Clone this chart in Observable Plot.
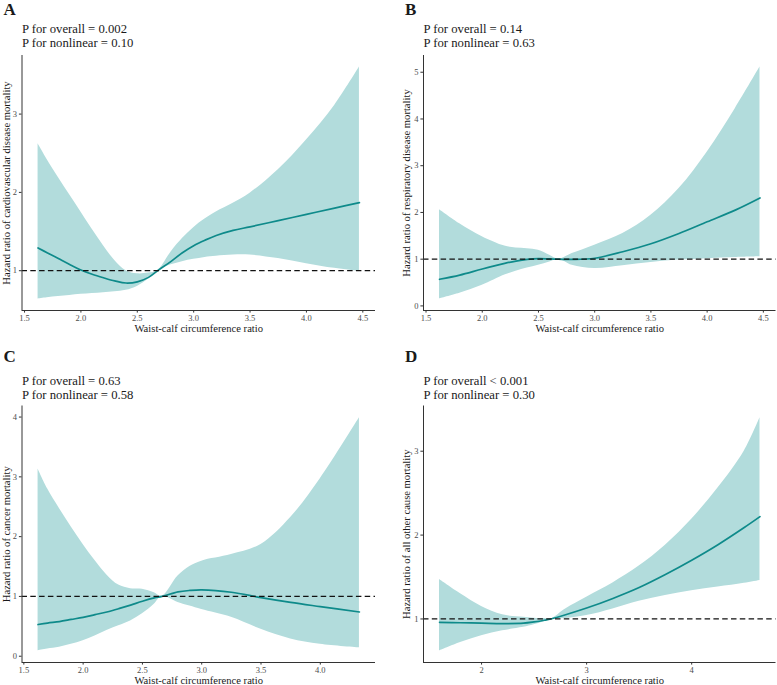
<!DOCTYPE html>
<html>
<head>
<meta charset="utf-8">
<script src="https://cdn.jsdelivr.net/npm/d3@7"></script>
<script src="https://cdn.jsdelivr.net/npm/@observablehq/plot@0.6"></script>
<style>
  body { margin: 0; background: #fff; }
  #wrap { position: relative; width: 777px; height: 685px; overflow: hidden; }
  .panel { position: absolute; }
  .panel svg { overflow: visible; }
</style>
</head>
<body>
<div id="wrap"></div>
<script>
// ---------------- DATA ----------------
const xLabel = "Waist-calf circumference ratio";

// Panel A: cardiovascular disease mortality
const xA   = [1.62, 1.7, 1.8, 1.9, 2.0, 2.1, 2.2, 2.3, 2.4, 2.5, 2.6, 2.68, 2.8, 2.9, 3.0, 3.1, 3.2, 3.35, 3.5, 3.75, 4.0, 4.25, 4.47];
const estA = [1.29, 1.23, 1.155, 1.08, 1.01, 0.955, 0.91, 0.87, 0.843, 0.858, 0.915, 1.0, 1.12, 1.23, 1.32, 1.39, 1.45, 1.515, 1.56, 1.64, 1.72, 1.80, 1.87];
const loA  = [0.64, 0.655, 0.67, 0.685, 0.698, 0.71, 0.72, 0.73, 0.75, 0.80, 0.895, 1.0, 1.075, 1.115, 1.145, 1.17, 1.185, 1.20, 1.20, 1.155, 1.09, 1.03, 0.99];
const hiA  = [2.62, 2.42, 2.19, 1.97, 1.75, 1.53, 1.32, 1.13, 1.0, 0.96, 0.97, 1.0, 1.24, 1.41, 1.55, 1.66, 1.75, 1.86, 1.99, 2.29, 2.67, 3.11, 3.60];
const xTicksA = [1.5, 2.0, 2.5, 3.0, 3.5, 4.0, 4.5];
const yTicksA = [1, 2, 3];

// Panel B: respiratory disease mortality
const xB   = [1.62, 1.8, 2.0, 2.2, 2.3, 2.4, 2.5, 2.6, 2.68, 2.8, 3.0, 3.25, 3.5, 3.75, 4.0, 4.25, 4.47];
const estB = [0.57, 0.66, 0.79, 0.91, 0.96, 0.995, 1.01, 1.005, 1.0, 0.995, 1.02, 1.16, 1.33, 1.55, 1.80, 2.05, 2.31];
const loB  = [0.15, 0.27, 0.44, 0.66, 0.74, 0.81, 0.87, 0.94, 1.0, 0.87, 0.80, 0.86, 0.93, 0.98, 1.01, 1.035, 1.05];
const hiB  = [2.06, 1.76, 1.48, 1.28, 1.24, 1.225, 1.19, 1.085, 1.0, 1.12, 1.30, 1.55, 1.94, 2.51, 3.29, 4.22, 5.11];
const xTicksB = [1.5, 2.0, 2.5, 3.0, 3.5, 4.0, 4.5];
const yTicksB = [0, 1, 2, 3, 4, 5];

// Panel C: cancer mortality
const xC   = [1.62, 1.7, 1.8, 1.9, 2.0, 2.1, 2.2, 2.3, 2.4, 2.5, 2.6, 2.665, 2.8, 2.9, 3.0, 3.25, 3.5, 3.75, 4.0, 4.33];
const estC = [0.53, 0.555, 0.58, 0.615, 0.65, 0.695, 0.74, 0.795, 0.855, 0.92, 0.975, 1.0, 1.075, 1.10, 1.11, 1.07, 0.98, 0.90, 0.83, 0.74];
const loC  = [0.09, 0.12, 0.15, 0.20, 0.26, 0.34, 0.43, 0.51, 0.59, 0.71, 0.87, 1.0, 0.90, 0.84, 0.78, 0.65, 0.45, 0.29, 0.20, 0.14];
const hiC  = [3.13, 2.80, 2.47, 2.16, 1.87, 1.60, 1.36, 1.19, 1.13, 1.12, 1.06, 1.0, 1.34, 1.50, 1.59, 1.70, 1.87, 2.32, 2.97, 3.99];
const xTicksC = [1.5, 2.0, 2.5, 3.0, 3.5, 4.0];
const yTicksC = [0, 1, 2, 3, 4];

// Panel D: all other cause mortality
const xD   = [1.6, 1.8, 2.0, 2.2, 2.4, 2.5, 2.6, 2.66, 2.8, 3.0, 3.25, 3.5, 3.75, 4.0, 4.25, 4.5, 4.65];
const estD = [0.96, 0.955, 0.95, 0.945, 0.95, 0.965, 0.985, 1.0, 1.05, 1.13, 1.245, 1.375, 1.53, 1.70, 1.885, 2.09, 2.22];
const loD  = [0.62, 0.72, 0.80, 0.86, 0.90, 0.93, 0.97, 1.0, 1.005, 1.04, 1.12, 1.21, 1.28, 1.335, 1.38, 1.425, 1.46];
const hiD  = [1.47, 1.30, 1.15, 1.05, 1.02, 1.01, 1.005, 1.0, 1.12, 1.26, 1.43, 1.63, 1.88, 2.19, 2.56, 3.0, 3.40];
const xTicksD = [2, 3, 4];
const yTicksD = [1, 2, 3];

const letters = ["A", "B", "C", "D"];
const pOverall = ["P for overall = 0.002", "P for overall = 0.14", "P for overall = 0.63", "P for overall < 0.001"];
const pNonlinear = ["P for nonlinear = 0.10", "P for nonlinear = 0.63", "P for nonlinear = 0.58", "P for nonlinear = 0.30"];
const yLabels = [
  "Hazard ratio of cardiovascular disease mortality",
  "Hazard ratio of respiratory disease mortality",
  "Hazard ratio of cancer mortality",
  "Hazard ratio of all other cause mortality"
];

// ---------------- DRAWING ----------------
const FONT = "'Liberation Serif', 'Times New Roman', Times, serif";
const RIBBON = "#b2dcdc";
const LINE = "#0e8a8a";
const CURVE = "catmull-rom";

function expand(arr) {
  const a = d3.min(arr), b = d3.max(arr), p = (b - a) * 0.05;
  return [a - p, b + p];
}

function panel(cfg) {
  const rows = cfg.xs.map((x, i) => ({x, est: cfg.est[i], lo: cfg.lo[i], hi: cfg.hi[i]}));
  const xd = expand(cfg.xs);
  const yd = expand(cfg.lo.concat(cfg.hi));
  const g = cfg.geom;
  const txt = {fill: "#1a1a1a", lineAnchor: "middle"};
  const chart = Plot.plot({
    width: g.width,
    height: g.height,
    marginTop: g.mt,
    marginBottom: g.mb,
    marginLeft: g.ml,
    marginRight: g.mr,
    x: {domain: xd},
    y: {domain: yd},
    style: {fontFamily: FONT, background: "transparent", color: "#000"},
    marks: [
      Plot.areaY(rows, {x: "x", y1: "lo", y2: "hi", fill: RIBBON, curve: CURVE}),
      Plot.lineY(rows, {x: "x", y: "est", stroke: LINE, strokeWidth: 1.7, curve: CURVE}),
      Plot.ruleY([1], {stroke: "#111", strokeWidth: 1.2, strokeDasharray: "5.5,3.3"}),
      Plot.ruleX([xd[0]], {stroke: "#333", strokeWidth: 1}),
      Plot.ruleY([yd[0]], {stroke: "#333", strokeWidth: 1}),
      Plot.axisX({ticks: cfg.xTicks, tickFormat: cfg.xFmt, tickSize: 2.6, tickPadding: 1.5,
                  fontSize: 8.5, stroke: "#333", fill: "#4d4d4d", label: null}),
      Plot.axisY({ticks: cfg.yTicks, tickFormat: d3.format("d"), tickSize: 2.6, tickPadding: 2.4,
                  fontSize: 8.5, stroke: "#333", fill: "#4d4d4d", label: null}),
      Plot.text([xLabel], {...txt, frameAnchor: "bottom", textAnchor: "middle", dy: 17.6, fontSize: 10.6}),
      Plot.text([cfg.ylab], {...txt, frameAnchor: "left", textAnchor: "middle", rotate: -90, dx: g.ylabDx, fontSize: 10.6}),
      Plot.text([cfg.letter], {...txt, frameAnchor: "top-left", textAnchor: "start", dx: -18.4, dy: g.letterDy,
                               fontSize: 17, fontWeight: "bold"}),
      Plot.text([cfg.p1], {...txt, frameAnchor: "top-left", textAnchor: "start", dx: 0, dy: g.p1Dy, fontSize: 12.7}),
      Plot.text([cfg.p2], {...txt, frameAnchor: "top-left", textAnchor: "start", dx: 0, dy: g.p2Dy, fontSize: 12.7})
    ]
  });
  const div = document.createElement("div");
  div.className = "panel";
  div.style.left = g.left + "px";
  div.style.top = g.top + "px";
  div.appendChild(chart);
  document.getElementById("wrap").appendChild(div);
}

const fmt1 = d3.format(".1f");
const fmt0 = d3.format("d");

const geomTopLeft  = {left: 0,   top: 0,   width: 388, height: 340, mt: 55,   mb: 30, ml: 21.5, mr: 13,  ylabDx: -15.5, letterDy: -46.3, p1Dy: -26.3, p2Dy: -12.8};
const geomTopRight = {left: 388, top: 0,   width: 389, height: 340, mt: 55,   mb: 30, ml: 35,   mr: 1.5, ylabDx: -16.8, letterDy: -46.3, p1Dy: -26.3, p2Dy: -12.8};
const geomBotLeft  = {left: 0,   top: 340, width: 388, height: 345, mt: 65.5, mb: 23, ml: 21.5, mr: 13,  ylabDx: -15.5, letterDy: -49,   p1Dy: -24.7, p2Dy: -11.5};
const geomBotRight = {left: 388, top: 340, width: 389, height: 345, mt: 65.5, mb: 23, ml: 35,   mr: 1.5, ylabDx: -16.8, letterDy: -49,   p1Dy: -24.7, p2Dy: -11.5};

panel({letter: letters[0], p1: pOverall[0], p2: pNonlinear[0], ylab: yLabels[0],
       xs: xA, est: estA, lo: loA, hi: hiA, xTicks: xTicksA, yTicks: yTicksA, xFmt: fmt1, geom: geomTopLeft});
panel({letter: letters[1], p1: pOverall[1], p2: pNonlinear[1], ylab: yLabels[1],
       xs: xB, est: estB, lo: loB, hi: hiB, xTicks: xTicksB, yTicks: yTicksB, xFmt: fmt1, geom: geomTopRight});
panel({letter: letters[2], p1: pOverall[2], p2: pNonlinear[2], ylab: yLabels[2],
       xs: xC, est: estC, lo: loC, hi: hiC, xTicks: xTicksC, yTicks: yTicksC, xFmt: fmt1, geom: geomBotLeft});
panel({letter: letters[3], p1: pOverall[3], p2: pNonlinear[3], ylab: yLabels[3],
       xs: xD, est: estD, lo: loD, hi: hiD, xTicks: xTicksD, yTicks: yTicksD, xFmt: fmt0, geom: geomBotRight});
</script>
</body>
</html>
